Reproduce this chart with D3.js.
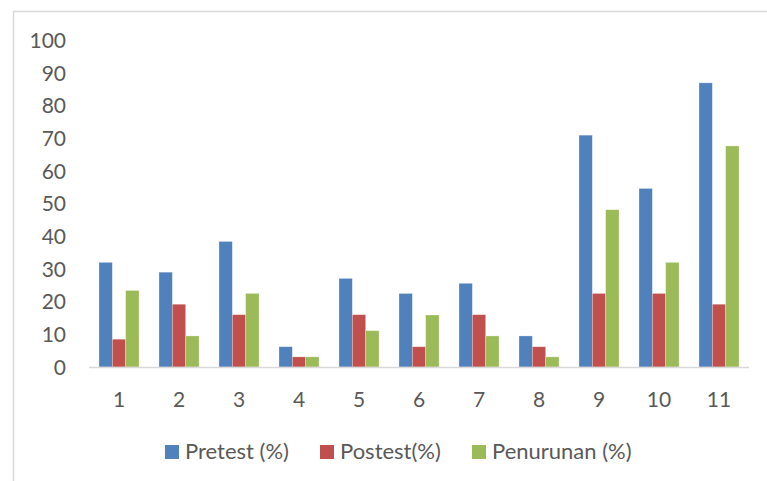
<!DOCTYPE html>
<html>
<head>
<meta charset="utf-8">
<script src="https://cdn.jsdelivr.net/npm/d3@7/dist/d3.min.js"></script>
<style>
  body { margin: 0; background: #fff; }
  svg text { font-family: Lato, "Open Sans", sans-serif; fill: #595959; }
</style>
</head>
<body>
<svg id="chart"></svg>
<script>
var categories = ["1", "2", "3", "4", "5", "6", "7", "8", "9", "10", "11"];
var seriesNames = ["Pretest (%)", "Postest(%)", "Penurunan (%)"];
var pretest = [32.0, 29.0, 38.4, 6.2, 27.1, 22.5, 25.6, 9.5, 70.9, 54.6, 86.9];
var postest = [8.5, 19.2, 16.0, 3.1, 16.0, 6.2, 16.0, 6.2, 22.5, 22.5, 19.2];
var penurunan = [23.4, 9.5, 22.5, 3.1, 11.1, 15.9, 9.5, 3.1, 48.1, 32.0, 67.6];
var yTicks = [0, 10, 20, 30, 40, 50, 60, 70, 80, 90, 100];
var colors = ["#4f81bd", "#c0504d", "#9bbb59"];

var width = 767, height = 481;
var svg = d3.select("#chart").attr("width", width).attr("height", height);

// bingkai chart
svg.append("path")
    .attr("d", "M13.5," + height + "V11.5H" + width)
    .attr("fill", "none")
    .attr("stroke", "#d9d9d9")
    .attr("stroke-width", 1.5);

var x0 = d3.scaleBand().domain(categories).range([89, 749]).paddingInner(1 / 3).paddingOuter(1 / 6);
var x1 = d3.scaleBand().domain(seriesNames).range([0, x0.bandwidth()]);
var y = d3.scaleLinear().domain([0, 100]).range([367, 40]);

var series = [pretest, postest, penurunan];
var rows = [];
categories.forEach(function(c, i) {
    seriesNames.forEach(function(s, j) {
        rows.push({cat: c, name: s, value: series[j][i], idx: j});
    });
});

svg.append("g").selectAll("rect")
    .data(rows)
    .enter()
    .append("rect")
    .attr("x", function(d) { return x0(d.cat) + x1(d.name); })
    .attr("y", function(d) { return y(d.value); })
    .attr("width", x1.bandwidth())
    .attr("height", function(d) { return y(0) - y(d.value); })
    .attr("fill", function(d) { return colors[d.idx]; })
    .attr("stroke", "#ffffff")
    .attr("stroke-opacity", 0.4)
    .attr("stroke-width", 0.7);

// sumbu y (hanya label)
var yAxis = svg.append("g")
    .attr("transform", "translate(66,0)")
    .call(d3.axisLeft(y).tickValues(yTicks).tickSize(0).tickPadding(0));
yAxis.select(".domain").remove();
yAxis.selectAll("text").attr("font-size", 21).attr("dy", "0.35em");

// garis dasar dan label x
svg.append("line")
    .attr("x1", 89).attr("x2", 749)
    .attr("y1", y(0) + 0.5).attr("y2", y(0) + 0.5)
    .attr("stroke", "#d9d9d9")
    .attr("stroke-width", 1.5);

var xAxis = svg.append("g")
    .attr("transform", "translate(0,407)")
    .call(d3.axisBottom(x0).tickSize(0).tickPadding(0));
xAxis.select(".domain").remove();
xAxis.selectAll("text").attr("font-size", 21).attr("dy", 0);

// legenda
var legendX = [165, 320, 472];
var legend = svg.append("g").selectAll("g")
    .data(seriesNames)
    .enter()
    .append("g")
    .attr("transform", function(d, i) { return "translate(" + legendX[i] + ",445)"; });
legend.append("rect")
    .attr("width", 14).attr("height", 14)
    .attr("fill", function(d, i) { return colors[i]; });
legend.append("text")
    .attr("x", 20).attr("y", 14)
    .attr("font-size", 22)
    .text(function(d) { return d; });
</script>
</body>
</html>
